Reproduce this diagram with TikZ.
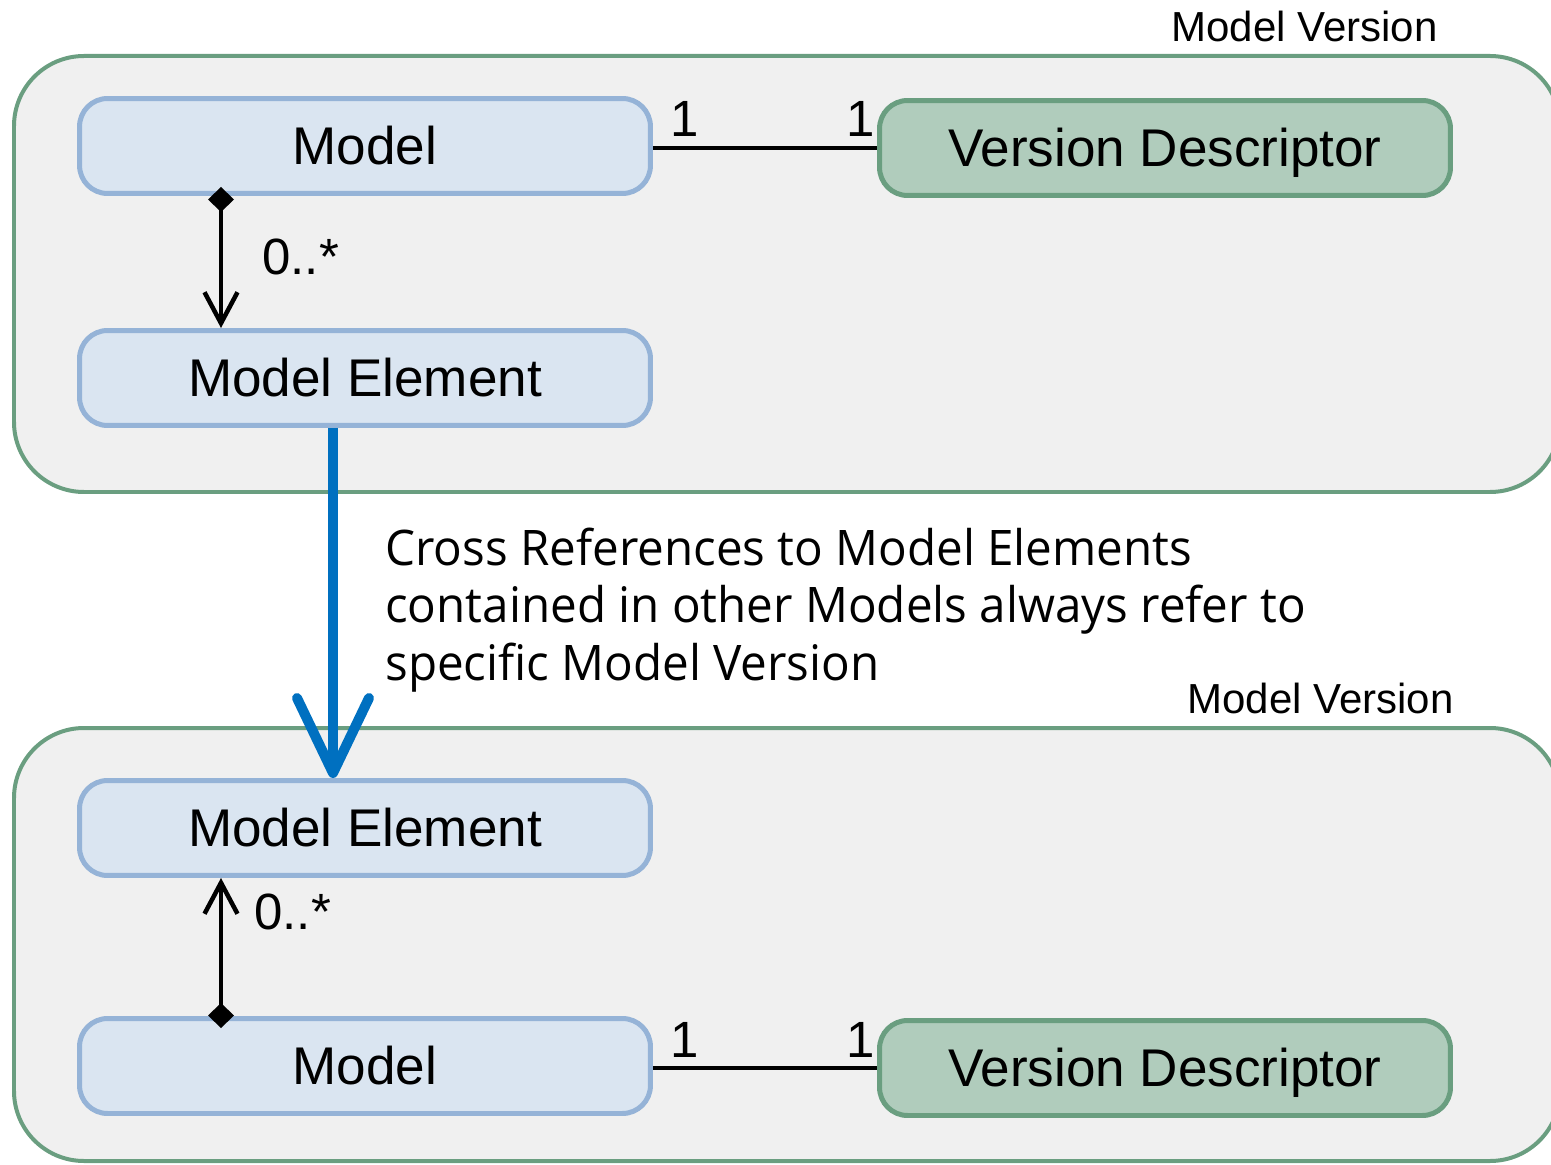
\documentclass[tikz,border=0pt]{standalone}
\usepackage{fontspec}
\setmainfont{Liberation Sans}
\newfontfamily\notefont[FakeStretch=0.97]{Open Sans}
\usetikzlibrary{arrows.meta}

\definecolor{vgreen}{HTML}{6A9E80}
\definecolor{vgrey}{HTML}{F0F0F0}
\definecolor{eblue}{HTML}{95B3D7}
\definecolor{efill}{HTML}{DAE5F1}
\definecolor{dfill}{HTML}{B0CCBC}
\definecolor{xblue}{HTML}{0070C0}

\begin{document}
\begin{tikzpicture}[x=0.02cm, y=-0.02cm,
	version/.style={draw=vgreen, fill=vgrey, line width=0.08cm, rounded corners=1.4cm},
	elem/.style={draw=eblue, fill=efill, line width=0.1cm, rounded corners=0.56cm, minimum width=11.42cm, minimum height=1.9cm, text height=21.6pt, text depth=0pt, font=\fontsize{30.2}{36}\selectfont},
	desc/.style={elem, draw=vgreen, fill=dfill},
	mult/.style={anchor=base west, inner sep=0pt, font=\fontsize{29}{34}\selectfont},
	vlabel/.style={anchor=base east, inner sep=0pt, font=\fontsize{23.9}{28}\selectfont},
	comp/.style={line width=0.09cm, {Diamond[length=0.5cm,width=0.52cm]}-{Straight Barb[length=0.62cm,width=0.66cm]}},
	ref/.style={draw=xblue, line width=0.2cm, -{Straight Barb[length=1.5cm,width=1.44cm,round]}}]

	\useasboundingbox (0,0) rectangle (1551,1165);
	\clip (0,0) rectangle (1551,1165);

	\draw[version] (14,56) rectangle (1560,492);
	\draw[version] (14,728) rectangle (1560,1161);
	\node[vlabel] (ver1) at (1438,42) {Model Version};
	\node[vlabel] (ver2) at (1454,713) {Model Version};

	\node[elem] (model1) at (365,146) {Model};
	\node[elem] (elem1) at (365,378) {Model Element};
	\node[desc] (desc1) at (1165,148) {Version Descriptor};

	\node[elem] (elem2) at (365,828) {Model Element};
	\node[elem] (model2) at (365,1066) {Model};
	\node[desc] (desc2) at (1165,1068) {Version Descriptor};

	\draw[line width=0.09cm] (model1.east |- desc1.west) -- (desc1.west);
	\draw[line width=0.09cm] (model2.east |- desc2.west) -- (desc2.west);
	\node[mult] (m1a) at (670,137) {1};
	\node[mult] (m1b) at (846,137) {1};
	\node[mult] (m2a) at (670,1057) {1};
	\node[mult] (m2b) at (846,1057) {1};

	\coordinate (c1) at (221,187);
	\coordinate (c2) at (221,1028);
	\draw[comp] (c1) -- (c1 |- elem1.north);
	\draw[comp] (c2) -- (c2 |- elem2.south);
	\node[mult] (n1) at (262,275) {0..*};
	\node[mult] (n2) at (254,929) {0..*};

	\coordinate (x1) at (333,0);
	\draw[ref] (x1 |- elem1.south) -- (x1 |- elem2.north);
	\node[anchor=base west, inner sep=0pt, align=left, font=\notefont\fontsize{27.9}{32.7}\selectfont] (note) at (385,680)
		{Cross References to Model Elements\\contained in other Models always refer to\\specific Model Version};
\end{tikzpicture}
\end{document}
